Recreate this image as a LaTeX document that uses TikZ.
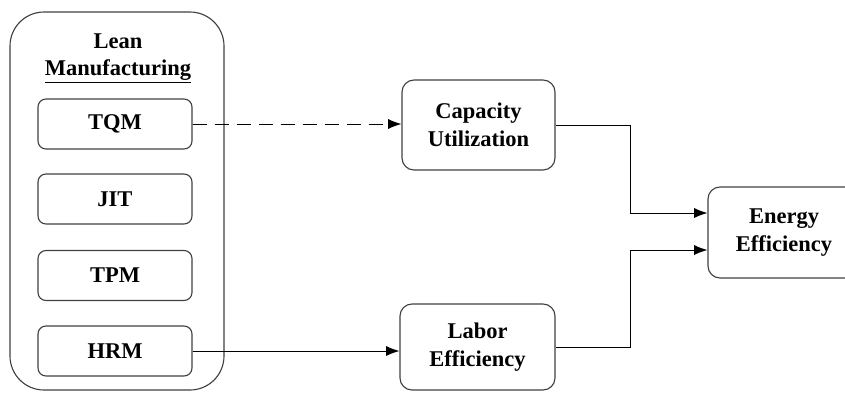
\documentclass[tikz,border=0pt]{standalone}
\usepackage{fontspec}
\setmainfont{Liberation Serif}
\usetikzlibrary{arrows.meta}
\begin{document}
\begin{tikzpicture}[scale=1]
\tikzstyle{every node}=[font=\fontsize{16}{19.5}\selectfont\bfseries, align=center]
\tikzstyle{leanbox}=[draw=black!75, line width=0.8pt, rounded corners=0.2cm, minimum width=3.85cm, minimum height=1.25cm, inner sep=0pt]
\tikzstyle{factbox}=[draw=black!75, line width=0.8pt, rounded corners=0.3cm, inner sep=0pt]
\tikzstyle{arr}=[line width=0.7pt, -{Latex[length=0.33cm,width=0.25cm]}]
	\useasboundingbox (0,0) rectangle (21.125,-9.8);
	\clip (0,0) rectangle (21.125,-9.8);
	\node[draw=black!75, line width=0.8pt, rounded corners=0.85cm, minimum width=5.35cm, minimum height=9.45cm] (lean) at (2.925,-5.025) {};
	\node (title) at (2.95,-1.46) {Lean\\\underline{Manufacturing}};

	\node[leanbox] (tqm) at (2.875,-3.1) {TQM};
	\node[leanbox] (jit) at (2.875,-4.975) {JIT};
	\node[leanbox] (tpm) at (2.875,-6.8875) {TPM};
	\node[leanbox] (hrm) at (2.875,-8.775) {HRM};

	\node[factbox, minimum width=3.825cm, minimum height=2.25cm] (cap) at (11.9625,-3.125) {Capacity\\Utilization};
	\node[factbox, minimum width=3.875cm, minimum height=2.15cm] (lab) at (11.9375,-8.675) {Labor\\Efficiency};
	\node[factbox, minimum width=3.8cm, minimum height=2.275cm] (en) at (19.6,-5.8125) {Energy\\Efficiency};

	\coordinate (j1) at (15.75,-5.325);
	\coordinate (j2) at (15.75,-6.25);
	\draw[arr, dash pattern=on 0.35cm off 0.2cm] (tqm.east) -- (cap.west |- tqm.east);
	\draw[arr] (hrm.east) -- (lab.west |- hrm.east);
	\draw[arr] (cap.east) -| (j1) -- (en.west |- j1);
	\draw[arr] (lab.east) -| (j2) -- (en.west |- j2);
\end{tikzpicture}
\end{document}
